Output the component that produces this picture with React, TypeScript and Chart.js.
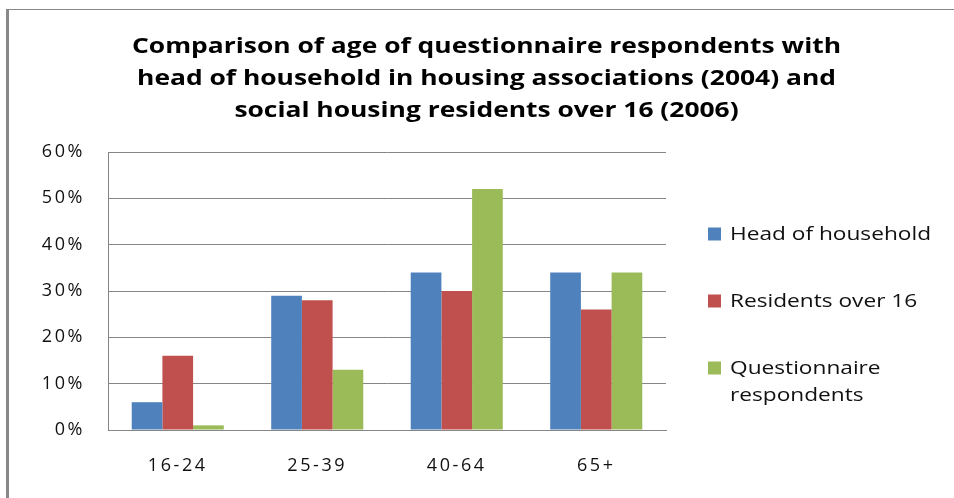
import { useEffect, useRef } from 'react';
import { Chart, registerables } from 'chart.js';

Chart.register(...registerables);

const categories = ['16-24', '25-39', '40-64', '65+'];
const headOfHousehold = [6, 29, 34, 34];
const residentsOver16 = [16, 28, 30, 26];
const questionnaireRespondents = [1, 13, 52, 34];
const seriesNames = ['Head of household', 'Residents over 16', 'Questionnaire respondents'];
const legendLines = [['Head of household'], ['Residents over 16'], ['Questionnaire', 'respondents']];
const seriesColors = ['#4F81BD', '#C0504D', '#9BBB59'];
const titleLines = [
  'Comparison of age of questionnaire respondents with',
  'head of household in housing associations (2004) and',
  'social housing residents over 16 (2006)',
];
const yMin = 0;
const yMax = 60;
const yStep = 10;

const TEXT_FONT = '"Open Sans"';

function drawStretched(ctx: any, text: string, x: number, y: number, sx: number, align: string) {
  ctx.save();
  ctx.translate(x, y);
  ctx.scale(sx, 1);
  ctx.textAlign = align;
  ctx.fillText(text, 0, 0);
  ctx.restore();
}

const decorPlugin = {
  id: 'decor',
  beforeDraw(chart: any) {
    const ctx = chart.ctx;
    ctx.save();
    ctx.fillStyle = '#888888';
    ctx.fillRect(6, 9, 3, 498 - 9);
    ctx.fillRect(6, 9, 954 - 6, 1);
    ctx.restore();
    ctx.letterSpacing = '2.6px';
  },
  afterDraw(chart: any) {
    const ctx = chart.ctx;
    ctx.save();
    ctx.letterSpacing = '0px';
    // title
    ctx.fillStyle = '#000000';
    ctx.font = 'bold 22px ' + TEXT_FONT;
    ctx.textBaseline = 'alphabetic';
    const tw = ctx.measureText(titleLines[0]).width;
    const tsx = 709 / tw;
    titleLines.forEach((line, i) => {
      drawStretched(ctx, line, 486.5, 52.5 + 32 * i, tsx, 'center');
    });
    // legend
    const ys = [234, 301, 368];
    ctx.font = '18px ' + TEXT_FONT;
    ctx.textBaseline = 'middle';
    const lw = ctx.measureText(legendLines[0][0]).width;
    const lsx = 201 / lw;
    legendLines.forEach((lines, i) => {
      ctx.fillStyle = seriesColors[i];
      ctx.fillRect(708, ys[i] - 6.5, 13, 13);
      ctx.fillStyle = '#111111';
      lines.forEach((t, j) => {
        drawStretched(ctx, t, 730, ys[i] + 1 + j * 27, lsx, 'left');
      });
    });
    ctx.restore();
  },
};

export default function App() {
  const ref = useRef<HTMLCanvasElement | null>(null);
  useEffect(() => {
    if (!ref.current) return;
    const seriesData = [headOfHousehold, residentsOver16, questionnaireRespondents];
    const chart = new Chart(ref.current, {
      type: 'bar',
      data: {
        labels: categories,
        datasets: seriesNames.map((name, i) => ({
          label: name,
          data: seriesData[i],
          backgroundColor: seriesColors[i],
          borderWidth: 0,
          categoryPercentage: 0.66,
          barPercentage: 1,
        })),
      },
      options: {
        responsive: false,
        animation: false,
        devicePixelRatio: 1,
        layout: { padding: { left: 0, top: 152, right: 288, bottom: 0 } },
        plugins: {
          legend: { display: false },
          title: { display: false },
          tooltip: { enabled: false },
        },
        scales: {
          x: {
            grid: { display: false, drawTicks: false },
            border: { display: true, color: '#868686', width: 1 },
            ticks: {
              color: '#111111',
              font: { family: TEXT_FONT, size: 18 },
              padding: 25,
            },
            afterFit(scale: any) {
              scale.height = 68;
            },
          },
          y: {
            min: yMin,
            max: yMax,
            ticks: {
              stepSize: yStep,
              color: '#111111',
              font: { family: TEXT_FONT, size: 18 },
              padding: 23,
              callback: (v: any) => v + '%',
            },
            grid: { color: '#868686', lineWidth: 1, drawTicks: false },
            border: { display: true, color: '#868686', width: 1 },
            afterFit(scale: any) {
              scale.width = 108;
            },
          },
        },
      },
      plugins: [decorPlugin],
    });
    return () => chart.destroy();
  }, []);
  return (
    <div style={{ position: 'absolute', left: 0, top: 0, width: 954, height: 498, background: '#ffffff' }}>
      <canvas ref={ref} width={954} height={498} style={{ display: 'block', width: 954, height: 498 }} />
    </div>
  );
}
